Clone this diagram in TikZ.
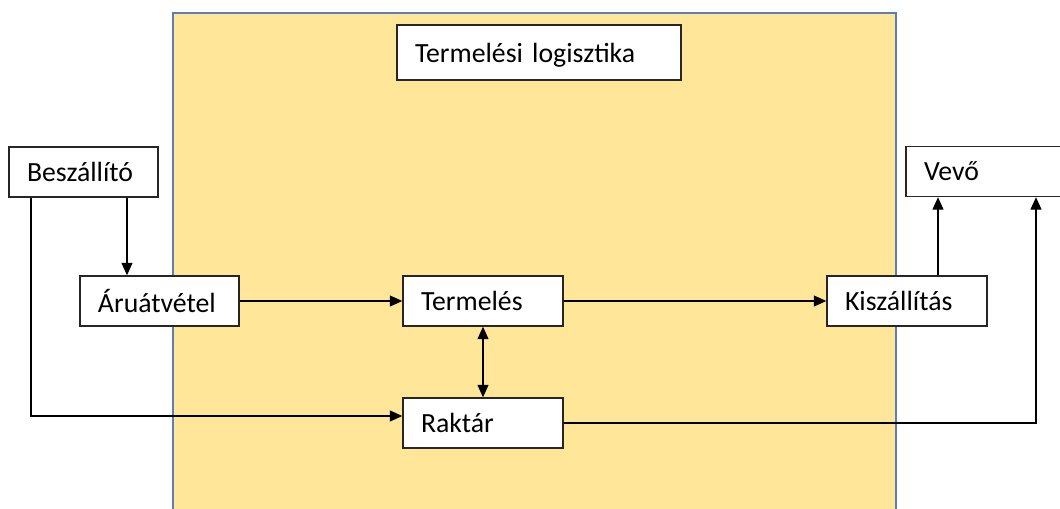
\documentclass[tikz,border=0pt]{standalone}
\usepackage{fontspec}
\setmainfont{Carlito}
\usepackage{xcolor}
\usepackage{tikz}
\usetikzlibrary{arrows.meta}

\definecolor{areafill}{HTML}{FFE699}
\definecolor{areaedge}{HTML}{5B7DB8}

\begin{document}
\begin{tikzpicture}[
        x=0.2mm, y=-0.2mm,
        >={Triangle[length=2.5mm,width=2.2mm]},
        box/.style={rectangle, draw=black!85, fill=white, line width=0.8pt, minimum height=10mm, inner xsep=3.6mm, inner ysep=0pt, text depth=0pt, align=left, font=\fontsize{15.8}{18}\selectfont},
        arrow/.style={->, line width=0.7pt}
    ]
        \useasboundingbox (0,0) rectangle (1060,509);
        \clip (0,0) rectangle (1060,509);

        % belso terulet
        \draw[areaedge, fill=areafill, line width=0.9pt] (173,13) rectangle (896,540);

        \node[box, text width=49.6mm, minimum height=11mm] (logi) at (539,52.5) {Termelési logisztika};
        \node[box, text width=22.6mm] (besz) at (83.5,172) {Beszállító};
        \node[box, text width=24.6mm] (aru) at (159.5,301) {Áruátvétel};
        \node[box, text width=24.8mm] (term) at (483,301) {Termelés};
        \node[box, text width=24.8mm] (raktar) at (483,423) {Raktár};
        \node[box, text width=24.8mm] (kisz) at (907,301) {Kiszállítás};
        \node[box, text width=30.8mm] (vevo) at (1001,171.5) {Vevő};

        \coordinate (balra) at (31,416);
        \coordinate (lefele) at (127,0);
        \coordinate (felfele) at (938,0);
        \coordinate (jobbra) at (1036,423);

        \draw[arrow] (besz.south -| lefele) -- (aru.north -| lefele);
        \draw[arrow] (besz.south -| balra) |- (raktar.west |- balra);
        \draw[arrow] (aru) -- (term);
        \draw[arrow] (term) -- (kisz);
        \draw[<->, line width=0.7pt] (term) -- (raktar);
        \draw[arrow] (kisz.north -| felfele) -- (vevo.south -| felfele);
        \draw[arrow] (raktar.east) -| (vevo.south -| jobbra);
    \end{tikzpicture}
\end{document}
